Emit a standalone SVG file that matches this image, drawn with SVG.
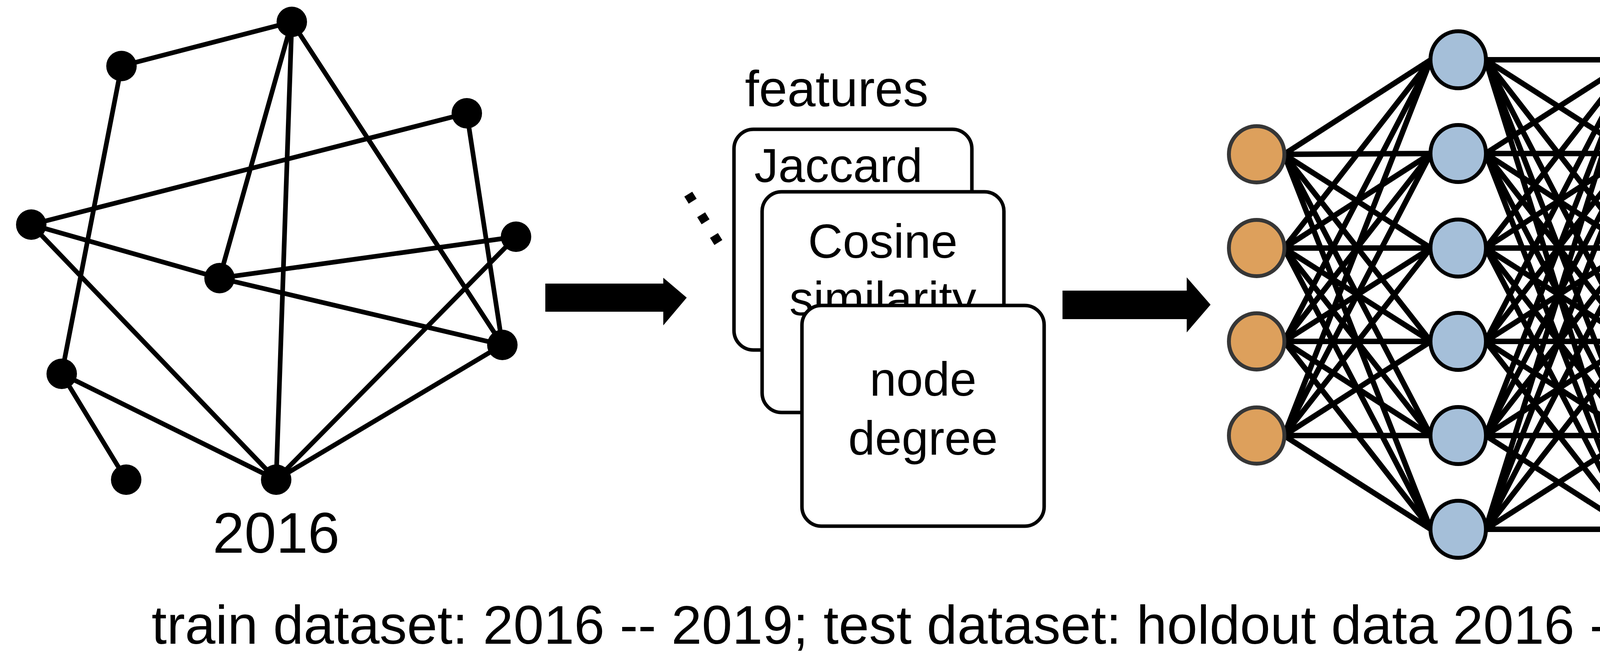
<svg xmlns="http://www.w3.org/2000/svg" width="6732" height="1705" viewBox="0 0 6732 1705">
<style>
text{font-family:"Liberation Sans",Arial,sans-serif;fill:#000}
.e{stroke:#000;stroke-width:12;fill:none;stroke-linecap:round}
.gn{fill:#000}
.card{fill:#fff;stroke:#000;stroke-width:9}
.ct{font-size:123px;text-anchor:middle}
.in{fill:#DDA05C;stroke:#363636;stroke-width:10}
.hid{fill:#A5BFD9;stroke:#000;stroke-width:10}
.out{fill:#669A4B;stroke:#000;stroke-width:10}
.yr{font-size:146px;text-anchor:middle}
</style>
<rect width="6732" height="1705" fill="#fff"/>
<g id="connectors">
 <g id="graph2016-edges">
  <line class="e" x1="747" y1="56" x2="311" y2="169"/>
  <line class="e" x1="747" y1="56" x2="562" y2="712"/>
  <line class="e" x1="747" y1="56" x2="707" y2="1228"/>
  <line class="e" x1="747" y1="56" x2="1286" y2="883"/>
  <line class="e" x1="311" y1="169" x2="158" y2="957"/>
  <line class="e" x1="1195" y1="290" x2="80" y2="575"/>
  <line class="e" x1="1195" y1="290" x2="1286" y2="883"/>
  <line class="e" x1="80" y1="575" x2="562" y2="712"/>
  <line class="e" x1="80" y1="575" x2="707" y2="1228"/>
  <line class="e" x1="562" y1="712" x2="1321" y2="606"/>
  <line class="e" x1="562" y1="712" x2="1286" y2="883"/>
  <line class="e" x1="1321" y1="606" x2="707" y2="1228"/>
  <line class="e" x1="1286" y1="883" x2="707" y2="1228"/>
  <line class="e" x1="158" y1="957" x2="707" y2="1228"/>
  <line class="e" x1="158" y1="957" x2="323" y2="1228"/>
 </g>
 <g id="graph2019-edges">
  <line class="e" x1="6052" y1="53" x2="5617" y2="171"/>
  <line class="e" x1="6052" y1="53" x2="5869" y2="712"/>
  <line class="e" x1="6052" y1="53" x2="6014" y2="1228"/>
  <line class="e" x1="6052" y1="53" x2="6595" y2="883"/>
  <line class="e" x1="5617" y1="171" x2="5389" y2="575"/>
  <line class="e" x1="5617" y1="171" x2="5466" y2="956"/>
  <line class="e" x1="6501" y1="290" x2="5389" y2="575" style="stroke-width:14"/>
  <line class="e" x1="6501" y1="290" x2="5869" y2="712"/>
  <line class="e" x1="6501" y1="290" x2="6014" y2="1228"/>
  <line class="e" x1="6501" y1="290" x2="6595" y2="883"/>
  <line class="e" x1="5400" y1="603" x2="6626" y2="600"/>
  <line class="e" x1="5389" y1="575" x2="5869" y2="712" style="stroke-width:14"/>
  <line class="e" x1="5389" y1="575" x2="6014" y2="1228"/>
  <line class="e" x1="5869" y1="712" x2="6626" y2="604" style="stroke-width:14"/>
  <line class="e" x1="5869" y1="712" x2="6595" y2="883"/>
  <line class="e" x1="5869" y1="712" x2="5631" y2="1228"/>
  <line class="e" x1="6626" y1="604" x2="6014" y2="1228"/>
  <line class="e" x1="6595" y1="883" x2="5631" y2="1228" style="stroke-width:14"/>
  <line class="e" x1="6595" y1="883" x2="6014" y2="1228"/>
  <line class="e" x1="5466" y1="956" x2="5631" y2="1228"/>
  <line class="e" x1="5466" y1="956" x2="6014" y2="1228" style="stroke-width:14"/>
 </g>
 <g id="nn-edges" stroke="#000" stroke-width="14">
  <g id="nn-edges-in-h1">
   <line x1="3287" y1="395" x2="3663" y2="153"/><line x1="3287" y1="395" x2="3663" y2="393"/><line x1="3287" y1="395" x2="3663" y2="635"/><line x1="3287" y1="395" x2="3663" y2="874"/><line x1="3287" y1="395" x2="3663" y2="1115"/><line x1="3287" y1="395" x2="3663" y2="1355"/>
   <line x1="3287" y1="635" x2="3663" y2="153"/><line x1="3287" y1="635" x2="3663" y2="393"/><line x1="3287" y1="635" x2="3663" y2="635"/><line x1="3287" y1="635" x2="3663" y2="874"/><line x1="3287" y1="635" x2="3663" y2="1115"/><line x1="3287" y1="635" x2="3663" y2="1355"/>
   <line x1="3287" y1="874" x2="3663" y2="153"/><line x1="3287" y1="874" x2="3663" y2="393"/><line x1="3287" y1="874" x2="3663" y2="635"/><line x1="3287" y1="874" x2="3663" y2="874"/><line x1="3287" y1="874" x2="3663" y2="1115"/><line x1="3287" y1="874" x2="3663" y2="1355"/>
   <line x1="3287" y1="1115" x2="3663" y2="153"/><line x1="3287" y1="1115" x2="3663" y2="393"/><line x1="3287" y1="1115" x2="3663" y2="635"/><line x1="3287" y1="1115" x2="3663" y2="874"/><line x1="3287" y1="1115" x2="3663" y2="1115"/><line x1="3287" y1="1115" x2="3663" y2="1355"/>
  </g>
  <g id="nn-edges-h1-h2">
   <line x1="3803" y1="153" x2="4178" y2="153"/><line x1="3803" y1="153" x2="4178" y2="393"/><line x1="3803" y1="153" x2="4178" y2="635"/><line x1="3803" y1="153" x2="4178" y2="874"/><line x1="3803" y1="153" x2="4178" y2="1115"/><line x1="3803" y1="153" x2="4178" y2="1355"/>
   <line x1="3803" y1="393" x2="4178" y2="153"/><line x1="3803" y1="393" x2="4178" y2="393"/><line x1="3803" y1="393" x2="4178" y2="635"/><line x1="3803" y1="393" x2="4178" y2="874"/><line x1="3803" y1="393" x2="4178" y2="1115"/><line x1="3803" y1="393" x2="4178" y2="1355"/>
   <line x1="3803" y1="635" x2="4178" y2="153"/><line x1="3803" y1="635" x2="4178" y2="393"/><line x1="3803" y1="635" x2="4178" y2="635"/><line x1="3803" y1="635" x2="4178" y2="874"/><line x1="3803" y1="635" x2="4178" y2="1115"/><line x1="3803" y1="635" x2="4178" y2="1355"/>
   <line x1="3803" y1="874" x2="4178" y2="153"/><line x1="3803" y1="874" x2="4178" y2="393"/><line x1="3803" y1="874" x2="4178" y2="635"/><line x1="3803" y1="874" x2="4178" y2="874"/><line x1="3803" y1="874" x2="4178" y2="1115"/><line x1="3803" y1="874" x2="4178" y2="1355"/>
   <line x1="3803" y1="1115" x2="4178" y2="153"/><line x1="3803" y1="1115" x2="4178" y2="393"/><line x1="3803" y1="1115" x2="4178" y2="635"/><line x1="3803" y1="1115" x2="4178" y2="874"/><line x1="3803" y1="1115" x2="4178" y2="1115"/><line x1="3803" y1="1115" x2="4178" y2="1355"/>
   <line x1="3803" y1="1355" x2="4178" y2="153"/><line x1="3803" y1="1355" x2="4178" y2="393"/><line x1="3803" y1="1355" x2="4178" y2="635"/><line x1="3803" y1="1355" x2="4178" y2="874"/><line x1="3803" y1="1355" x2="4178" y2="1115"/><line x1="3803" y1="1355" x2="4178" y2="1355"/>
  </g>
  <g id="nn-edges-h2-out">
   <line x1="4318" y1="153" x2="4689" y2="763"/><line x1="4318" y1="393" x2="4689" y2="763"/><line x1="4318" y1="635" x2="4689" y2="763"/><line x1="4318" y1="874" x2="4689" y2="763"/><line x1="4318" y1="1115" x2="4689" y2="763"/><line x1="4318" y1="1355" x2="4689" y2="763"/>
  </g>
 </g>
</g>

<g id="g2016-n-top"><circle class="gn" cx="747" cy="56" r="39"/></g>
<g id="g2016-n-upperleft"><circle class="gn" cx="311" cy="169" r="39"/></g>
<g id="g2016-n-rightupper"><circle class="gn" cx="1195" cy="290" r="39"/></g>
<g id="g2016-n-left"><circle class="gn" cx="80" cy="575" r="39"/></g>
<g id="g2016-n-right"><circle class="gn" cx="1321" cy="606" r="39"/></g>
<g id="g2016-n-center"><circle class="gn" cx="562" cy="712" r="39"/></g>
<g id="g2016-n-rightlower"><circle class="gn" cx="1286" cy="883" r="39"/></g>
<g id="g2016-n-lowerleft"><circle class="gn" cx="158" cy="957" r="39"/></g>
<g id="g2016-n-bottomsmall"><circle class="gn" cx="323" cy="1228" r="39"/></g>
<g id="g2016-n-bottom"><circle class="gn" cx="707" cy="1228" r="39"/></g>
<g id="label-2016"><text class="yr" x="707" y="1415">2016</text></g>

<g id="arrow-1"><polygon fill="#000" points="1396,726 1698,726 1698,711 1758,762 1698,833 1698,798 1396,798"/></g>

<g id="features">
 <text x="1907" y="272" style="font-size:130px">features</text>
 <text transform="translate(1741,486) rotate(58.1)" x="0" y="0" style="font-size:224px">...</text>
 <g id="card-jaccard">
  <rect class="card" x="1879" y="331" width="609" height="565" rx="50"/>
  <text x="1931" y="466" style="font-size:123px">Jaccard</text>
 </g>
 <g id="card-cosine">
  <rect class="card" x="1951" y="491" width="619" height="565" rx="50"/>
  <text class="ct" x="2260" y="660">Cosine</text>
  <text class="ct" x="2260" y="807">similarity</text>
 </g>
 <g id="card-degree">
  <rect class="card" x="2053" y="782" width="620" height="565" rx="50"/>
  <text class="ct" x="2363" y="1013">node</text>
  <text class="ct" x="2363" y="1164">degree</text>
 </g>
</g>

<g id="arrow-2"><polygon fill="#000" points="2720,744 3038,744 3038,710 3099,780 3038,851 3038,817 2720,817"/></g>

<g id="nn-input-1"><ellipse class="in" cx="3217" cy="395" rx="71" ry="72"/></g>
<g id="nn-input-2"><ellipse class="in" cx="3217" cy="635" rx="71" ry="72"/></g>
<g id="nn-input-3"><ellipse class="in" cx="3217" cy="874" rx="71" ry="72"/></g>
<g id="nn-input-4"><ellipse class="in" cx="3217" cy="1115" rx="71" ry="72"/></g>
<g id="nn-h1-1"><ellipse class="hid" cx="3733" cy="153" rx="71" ry="73"/></g>
<g id="nn-h1-2"><ellipse class="hid" cx="3733" cy="393" rx="71" ry="73"/></g>
<g id="nn-h1-3"><ellipse class="hid" cx="3733" cy="635" rx="71" ry="73"/></g>
<g id="nn-h1-4"><ellipse class="hid" cx="3733" cy="874" rx="71" ry="73"/></g>
<g id="nn-h1-5"><ellipse class="hid" cx="3733" cy="1115" rx="71" ry="73"/></g>
<g id="nn-h1-6"><ellipse class="hid" cx="3733" cy="1355" rx="71" ry="73"/></g>
<g id="nn-h2-1"><ellipse class="hid" cx="4248" cy="153" rx="71" ry="73"/></g>
<g id="nn-h2-2"><ellipse class="hid" cx="4248" cy="393" rx="71" ry="73"/></g>
<g id="nn-h2-3"><ellipse class="hid" cx="4248" cy="635" rx="71" ry="73"/></g>
<g id="nn-h2-4"><ellipse class="hid" cx="4248" cy="874" rx="71" ry="73"/></g>
<g id="nn-h2-5"><ellipse class="hid" cx="4248" cy="1115" rx="71" ry="73"/></g>
<g id="nn-h2-6"><ellipse class="hid" cx="4248" cy="1355" rx="71" ry="73"/></g>
<g id="nn-output"><ellipse class="out" cx="4759" cy="763" rx="71" ry="72"/></g>

<g id="impactful">
 <text x="4711" y="375" style="font-size:145px">Impactful?</text>
 <path fill="#000" d="M5292,445 L4829,445 A95,95 0 0 0 4734,540 L4734,620 L4704,620 L4763,681 L4825,620 L4794,620 L4794,544 A40,40 0 0 1 4834,504 L5292,504 Z"/>
</g>

<g id="g2019-n-top"><circle class="gn" cx="6052" cy="53" r="40"/></g>
<g id="g2019-n-upperleft"><circle class="gn" cx="5617" cy="171" r="40"/></g>
<g id="g2019-n-rightupper"><circle class="gn" cx="6501" cy="290" r="40"/></g>
<g id="g2019-n-left"><circle class="gn" cx="5389" cy="575" r="40"/></g>
<g id="g2019-n-right"><circle class="gn" cx="6626" cy="604" r="40"/></g>
<g id="g2019-n-center"><circle class="gn" cx="5869" cy="712" r="40"/></g>
<g id="g2019-n-rightlower"><circle class="gn" cx="6595" cy="883" r="40"/></g>
<g id="g2019-n-lowerleft"><circle class="gn" cx="5466" cy="956" r="40"/></g>
<g id="g2019-n-bottomleft"><circle class="gn" cx="5631" cy="1228" r="40"/></g>
<g id="g2019-n-bottom"><circle class="gn" cx="6014" cy="1228" r="40"/></g>
<g id="label-2019"><text class="yr" x="6036" y="1415">2019</text></g>

<g id="caption"><text x="388" y="1648" style="font-size:140px">train dataset: 2016 -- 2019; test dataset: holdout data 2016 -- 2019; eval dataset: 2019 --2022</text></g>
</svg>
